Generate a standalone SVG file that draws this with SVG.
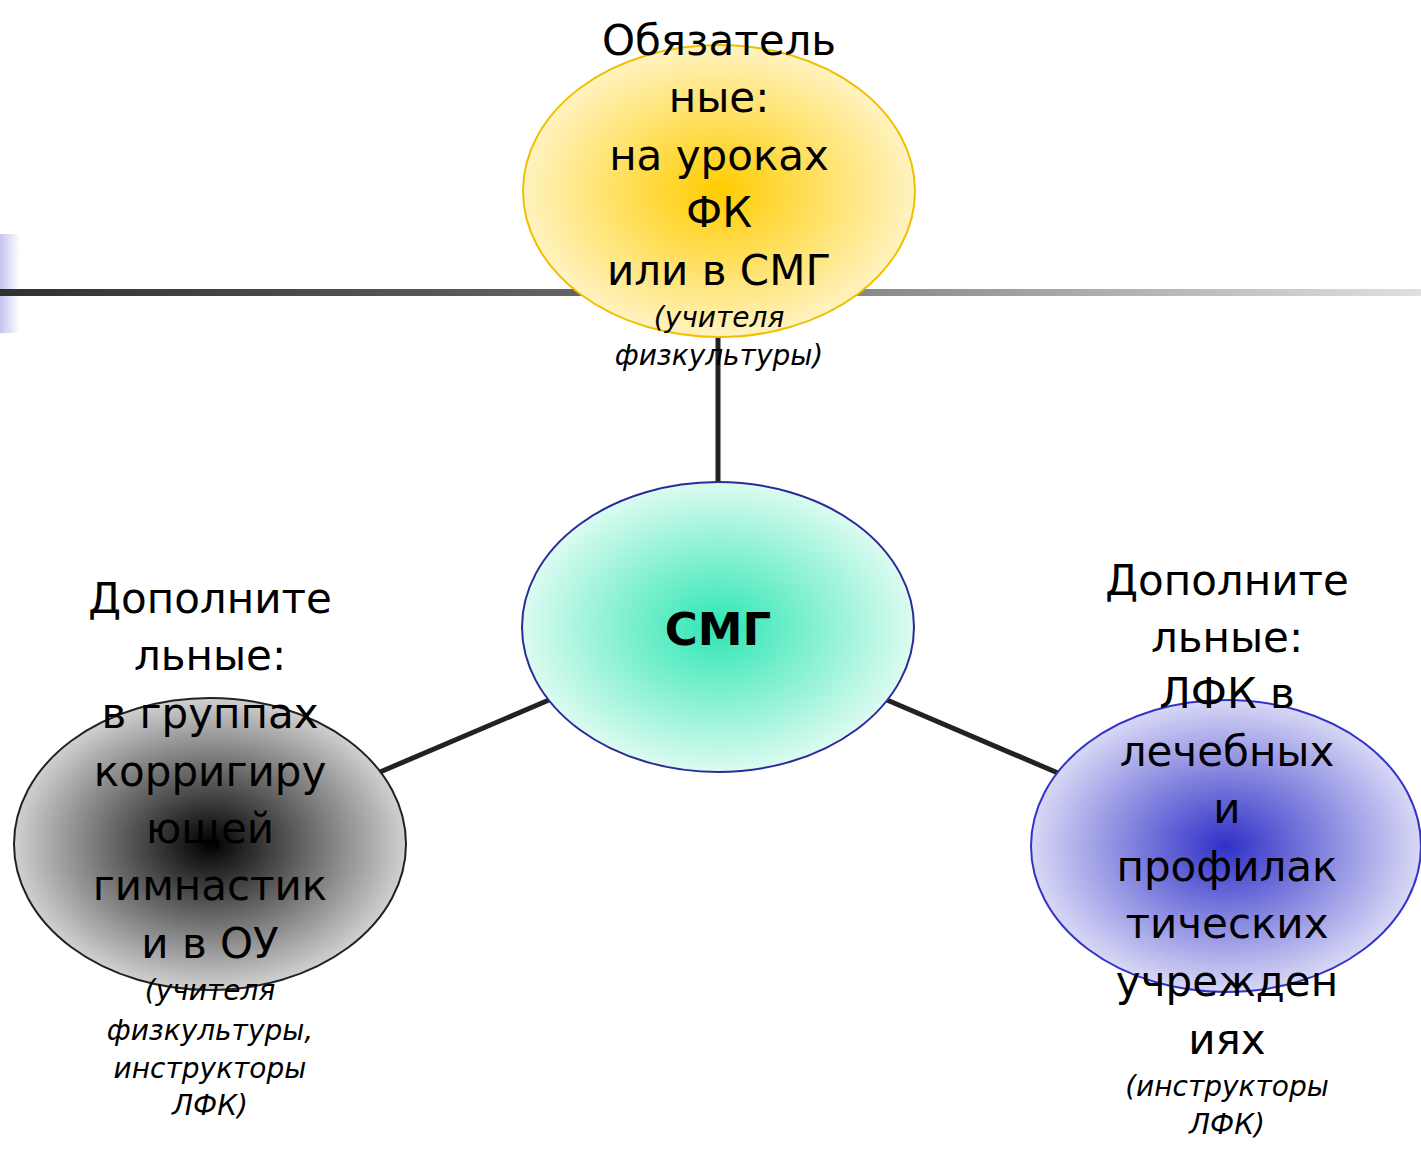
<svg xmlns="http://www.w3.org/2000/svg" width="1421" height="1154" viewBox="0 0 1421 1154">
<defs>
<linearGradient id="gBar" x1="0" y1="0" x2="1" y2="0"><stop offset="0" stop-color="#c4c4f0"/><stop offset="1" stop-color="#ffffff"/></linearGradient>
<linearGradient id="gLine" x1="0" y1="0" x2="1" y2="0"><stop offset="0" stop-color="#303030"/><stop offset="0.5" stop-color="#707070"/><stop offset="1" stop-color="#e0e0e0"/></linearGradient>
<radialGradient id="gYellow"><stop offset="0" stop-color="#ffcc00"/><stop offset="1" stop-color="#fff3c0"/></radialGradient>
<radialGradient id="gGreen"><stop offset="0" stop-color="#2ee6b2"/><stop offset="1" stop-color="#dcfbf1"/></radialGradient>
<radialGradient id="gGray"><stop offset="0" stop-color="#000000"/><stop offset="1" stop-color="#d0d0d0"/></radialGradient>
<radialGradient id="gBlue"><stop offset="0" stop-color="#3030c8"/><stop offset="1" stop-color="#d8d8f6"/></radialGradient>
</defs>
<style>
.t{font-family:"DejaVu Sans",Verdana,sans-serif;font-size:42px;fill:#000;text-anchor:middle}
.i{font-family:"DejaVu Sans",Verdana,sans-serif;font-size:28px;font-style:italic;fill:#000;text-anchor:middle}
.b{font-family:"DejaVu Sans",Verdana,sans-serif;font-size:45px;font-weight:bold;fill:#000;text-anchor:middle}
.c{stroke:#222;stroke-width:5;fill:none}
</style>
<rect x="0" y="234" width="20" height="99" fill="url(#gBar)"/>
<rect x="0" y="289" width="1421" height="7" fill="url(#gLine)"/>
<g id="connectors">
<line class="c" x1="718" y1="336" x2="718" y2="482"/>
<line class="c" x1="549" y1="700" x2="380" y2="772"/>
<line class="c" x1="887" y1="700" x2="1058" y2="773"/>
</g>
<g id="top">
<ellipse cx="719" cy="191" rx="196" ry="146" fill="url(#gYellow)" stroke="#f0c000" stroke-width="2"/>
<text class="t" x="719" y="55">Обязатель</text>
<text class="t" x="719" y="112">ные:</text>
<text class="t" x="719" y="170">на уроках</text>
<text class="t" x="719" y="227">ФК</text>
<text class="t" x="719" y="285">или в СМГ</text>
<text class="i" x="719" y="327">(учителя</text>
<text class="i" x="719" y="365">физкультуры)</text>
</g>
<g id="center">
<ellipse cx="718" cy="627" rx="196" ry="145" fill="url(#gGreen)" stroke="#2a2a9a" stroke-width="2"/>
<text class="b" x="718" y="645">СМГ</text>
</g>
<g id="left">
<ellipse cx="210" cy="844" rx="196" ry="146" fill="url(#gGray)" stroke="#222" stroke-width="2"/>
<text class="t" x="210" y="613">Дополните</text>
<text class="t" x="210" y="670">льные:</text>
<text class="t" x="210" y="728">в группах</text>
<text class="t" x="210" y="786">корригиру</text>
<text class="t" x="210" y="843">ющей</text>
<text class="t" x="210" y="900">гимнастик</text>
<text class="t" x="210" y="958">и в ОУ</text>
<text class="i" x="210" y="1000">(учителя</text>
<text class="i" x="210" y="1040">физкультуры,</text>
<text class="i" x="210" y="1078">инструкторы</text>
<text class="i" x="210" y="1115">ЛФК)</text>
</g>
<g id="right">
<ellipse cx="1226" cy="846" rx="195" ry="146" fill="url(#gBlue)" stroke="#3333cc" stroke-width="2"/>
<text class="t" x="1227" y="595">Дополните</text>
<text class="t" x="1227" y="652">льные:</text>
<text class="t" x="1227" y="708">ЛФК в</text>
<text class="t" x="1227" y="766">лечебных</text>
<text class="t" x="1227" y="823">и</text>
<text class="t" x="1227" y="881">профилак</text>
<text class="t" x="1227" y="938">тических</text>
<text class="t" x="1227" y="996">учрежден</text>
<text class="t" x="1227" y="1054">иях</text>
<text class="i" x="1227" y="1096">(инструкторы</text>
<text class="i" x="1227" y="1134">ЛФК)</text>
</g>
</svg>
